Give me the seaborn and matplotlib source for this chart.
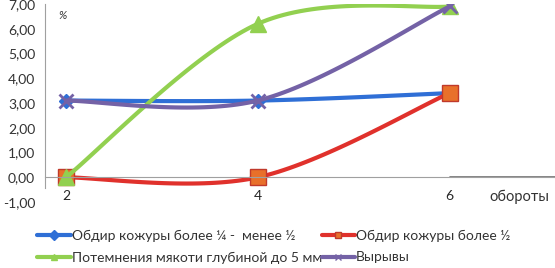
import numpy as np
import pandas as pd
import matplotlib
matplotlib.use("Agg")
import matplotlib.pyplot as plt
from matplotlib.lines import Line2D
import seaborn as sns

# data
revs = [2, 4, 6]
peel_quarter_half = [3.1, 3.1, 3.4]
peel_over_half = [0.0, 0.0, 3.4]
darkening_5mm = [0.0, 6.2, 6.9]
tears = [3.1, 3.1, 6.9]
labels = ["Обдир кожуры более ¼ -  менее ½",
          "Обдир кожуры более ½",
          "Потемнения мякоти глубиной до 5 мм",
          "Вырывы"]
yticks = [-1, 0, 1, 2, 3, 4, 5, 6, 7]

sns.set_style("white")
plt.rcParams["font.family"] = ["Lato", "DejaVu Sans"]


def smooth(x, y, n=40):
    # excel-like smoothed line (catmull-rom bezier)
    p = np.column_stack([x, y]).astype(float)
    pts = []
    for i in range(len(p) - 1):
        p0 = p[i - 1] if i > 0 else p[i]
        p3 = p[i + 2] if i + 2 < len(p) else p[i + 1]
        c1 = p[i] + (p[i + 1] - p0) / 6
        c2 = p[i + 1] - (p3 - p[i]) / 6
        t = np.linspace(0, 1, n)[:, None]
        b = ((1 - t) ** 3 * p[i] + 3 * (1 - t) ** 2 * t * c1
             + 3 * (1 - t) * t ** 2 * c2 + t ** 3 * p[i + 1])
        pts.append(b)
    b = np.vstack(pts)
    return b[:, 0], b[:, 1]


series = [
    (peel_quarter_half, "#2f6fd6", "D", "#2f6fd6", "#2f6fd6", 7),
    (peel_over_half, "#e0312c", "s", "#e8702a", "#c0392b", 11),
    (darkening_5mm, "#92d050", "^", "#92d050", "#92d050", 11),
    (tears, "#7462a6", "x", "#7462a6", "#7462a6", 10),
]

fig = plt.figure(figsize=(5.55, 2.68), dpi=100)
ax = fig.add_axes([0.081, 0.246, 0.919, 0.739])

handles = []
for (vals, col, mk, fc, ec, ms), lab in zip(series, labels):
    sx, sy = smooth(revs, vals)
    df = pd.DataFrame({"x": sx, "y": sy})
    sns.lineplot(data=df, x="x", y="y", sort=False, color=col, lw=3,
                 ax=ax, legend=False)
    ax.plot(revs, vals, ls="none", marker=mk, ms=ms, mfc=fc, mec=ec,
            mew=2 if mk == "x" else 1)
    handles.append(Line2D([], [], color=col, lw=3, marker=mk, ms=5,
                          mfc=fc, mec=ec))

ax.set_xlim(1.78, 7.1)
ax.set_ylim(-1, 7)
ax.set_xticks(revs)
ax.set_xticklabels([str(r) for r in revs], fontsize=10, color="#333333")
ax.set_yticks(yticks)
ax.set_yticklabels([f"{v:.2f}".replace(".", ",") for v in yticks],
                   fontsize=10, color="#333333")
ax.set_xlabel("")
ax.set_ylabel("")
ax.tick_params(axis="y", length=0, pad=7)
ax.tick_params(axis="x", length=0, pad=9)
for s in ["top", "right"]:
    ax.spines[s].set_visible(False)
ax.spines["bottom"].set_position(("data", 0))
ax.spines["bottom"].set_color("#a0a0a0")
ax.spines["left"].set_color("#a0a0a0")
ax.spines["left"].set_bounds(-0.45, 7)
ax.plot([6, 7.1], [0, 0], color="#707070", lw=1.2, zorder=0.5)

ax.text(1.92, 6.4, "%", fontsize=8, style="italic", color="#333333")
ax.text(6.42, -0.8, "обороты", fontsize=10.5, color="#333333", va="center")

# legend is filled column by column, so reorder to get rows like the original
order = [0, 2, 1, 3]
fig.legend(handles=[handles[i] for i in order],
           labels=[labels[i] for i in order], ncol=2, loc="lower left",
           bbox_to_anchor=(0.045, -0.03), frameon=False, fontsize=10,
           handlelength=2.4, handletextpad=0.05, columnspacing=0.0,
           labelspacing=0.7, labelcolor="#333333")

fig.savefig("out.png", dpi=100)
